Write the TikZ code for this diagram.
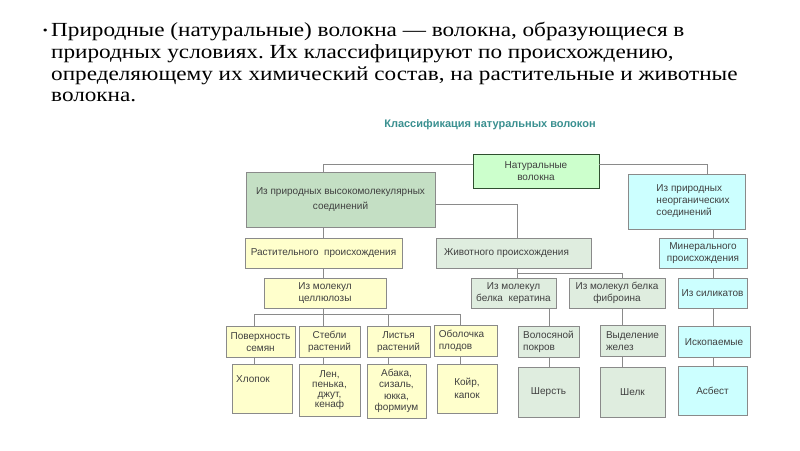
\documentclass[tikz,border=0pt]{standalone}
\usepackage{fontspec}
\setmainfont{Liberation Serif}
\newfontfamily\boxfont{Liberation Sans}
\frenchspacing
\definecolor{natfill}{HTML}{CCFFCC}
\definecolor{natline}{HTML}{2F4F2F}
\definecolor{highfill}{HTML}{C4DFC4}
\definecolor{cyanfill}{HTML}{CCFFFF}
\definecolor{yelfill}{HTML}{FFFFCC}
\definecolor{animfill}{HTML}{DFEDDF}
\definecolor{boxline}{HTML}{8A8A8A}
\definecolor{boxtext}{HTML}{404040}
\definecolor{titlecol}{HTML}{3A9090}
\begin{document}
\begin{tikzpicture}[x=1pt,y=-1pt,
  box/.style={draw=boxline, line width=0.8pt, text=boxtext,
    font=\boxfont\fontsize{10}{12.5}\selectfont, align=center,
    inner sep=1pt, outer sep=0pt},
  conn/.style={draw=boxline, line width=0.8pt}]
\useasboundingbox[fill=white] (0,0) rectangle (800,450);

% header text
\node[anchor=north west, inner sep=0pt,
  font=\fontsize{20}{21.7}\selectfont] (head) at (51,21.5)
  {\scalebox{1.16}[1]{\begin{tabular}{@{}l@{}}%
   \llap{\raisebox{2pt}{\scalebox{0.6}{\textbullet}}\hspace{3pt}}Природные (натуральные) волокна — волокна, образующиеся в\\
   природных условиях. Их классифицируют по происхождению,\\
   определяющему их химический состав, на растительные и животные\\
   волокна.\end{tabular}}};

% title
\node[font=\boxfont\bfseries\fontsize{11}{13}\selectfont, text=titlecol, inner sep=0pt]
  (title) at (490,124.5) {Классификация натуральных волокон};

% level 1
\node[box, fill=natfill, draw=natline, minimum width=126pt, minimum height=34pt, font=\boxfont\fontsize{10}{11.5}\selectfont]
  (nat) at (536,171) {Натуральные\\волокна};
\node[box, fill=highfill, minimum width=189pt, minimum height=55pt, font=\boxfont\fontsize{10}{15.5}\selectfont]
  (high) at (340.5,199.5) {Из природных высокомолекулярных\\соединений};
\node[box, fill=cyanfill, minimum width=117pt, minimum height=55pt, align=left,
  font=\boxfont\fontsize{10}{12}\selectfont]
  (inorg) at (686.5,201.5) {\hspace*{13pt}Из природных\\\hspace*{13pt}неорганических\\\hspace*{13pt}соединений\hspace*{10pt}};

% level 2
\node[box, fill=yelfill, minimum width=157pt, minimum height=30pt] (rast) at (323.5,253) {Растительного\ \ происхождения};
\node[box, fill=animfill, minimum width=155pt, minimum height=30pt] (anim) at (513.5,253) {Животного происхождения\hspace*{14pt}};
\node[box, fill=cyanfill, minimum width=88pt, minimum height=30pt, font=\boxfont\fontsize{10}{12}\selectfont] (miner) at (703,253) {Минерального\\происхождения};

% level 3
\node[box, fill=yelfill, minimum width=122pt, minimum height=30pt, font=\boxfont\fontsize{10}{12}\selectfont] (cell) at (325,293) {Из молекул\\целлюлозы};
\node[box, fill=animfill, minimum width=85pt, minimum height=30pt, font=\boxfont\fontsize{10}{12}\selectfont] (kerat) at (513.5,293) {Из молекул\\белка\ \ кератина};
\node[box, fill=animfill, minimum width=96pt, minimum height=30pt, font=\boxfont\fontsize{10}{12}\selectfont] (fibr) at (617,293) {Из молекул белка\\фиброина};
\node[box, fill=cyanfill, minimum width=69pt, minimum height=30pt] (silic) at (712.5,293) {Из силикатов};

% level 4
\node[box, fill=yelfill, minimum width=69pt, minimum height=31pt, font=\boxfont\fontsize{10}{12.5}\selectfont] (surf) at (260.5,342) {Поверхность\\семян};
\node[box, fill=yelfill, minimum width=61pt, minimum height=31pt, font=\boxfont\fontsize{10}{12.5}\selectfont] (stem) at (329.5,342) {Стебли\\растений};
\node[box, fill=yelfill, minimum width=63pt, minimum height=31pt, font=\boxfont\fontsize{10}{12.5}\selectfont] (leaf) at (398.5,342) {Листья\\растений};
\node[box, fill=yelfill, minimum width=63pt, minimum height=31pt, align=left, font=\boxfont\fontsize{10}{12}\selectfont] (shell) at (465.5,341) {Оболочка\\плодов\hspace*{20pt}};
\node[box, fill=animfill, minimum width=61pt, minimum height=31pt, align=left, font=\boxfont\fontsize{10}{12.5}\selectfont] (hair) at (548.5,342) {Волосяной\\покров\hspace*{14pt}};
\node[box, fill=animfill, minimum width=65pt, minimum height=31pt, align=left, font=\boxfont\fontsize{10}{12}\selectfont] (gland) at (632.5,341) {Выделение\\желез\hspace*{22pt}};
\node[box, fill=cyanfill, minimum width=72pt, minimum height=31pt] (fossil) at (714,342) {Ископаемые};

% level 5
\node[box, fill=yelfill, minimum width=60pt, minimum height=49pt, align=left] (cotton) at (262,388.5) {Хлопок\hspace*{18pt}\\[6pt]\mbox{}};
\node[box, fill=yelfill, minimum width=61pt, minimum height=52pt, font=\boxfont\fontsize{10}{10}\selectfont] (flax) at (329.5,390) {Лен,\\пенька,\\джут,\\кенаф};
\node[box, fill=yelfill, minimum width=59pt, minimum height=54pt, font=\boxfont\fontsize{10}{11.5}\selectfont] (abaca) at (396.5,391) {Абака,\\сизаль,\\юкка,\\формиум};
\node[box, fill=yelfill, minimum width=60pt, minimum height=49pt, font=\boxfont\fontsize{10}{12.5}\selectfont] (coir) at (467,388.5) {Койр,\\капок};
\node[box, fill=animfill, minimum width=61pt, minimum height=50pt] (wool) at (548.5,392) {Шерсть};
\node[box, fill=animfill, minimum width=65pt, minimum height=50pt] (silk) at (632.5,392) {Шелк};
\node[box, fill=cyanfill, minimum width=69pt, minimum height=49pt] (asb) at (712.5,390.5) {Асбест};

% connectors
\draw[conn] (nat.west |- 0,164) -| (high.north -| 323,0);
\draw[conn] (nat.east |- 0,164) -| (inorg.north -| 707,0);
\draw[conn] (high.east |- 0,204) -| (anim.north -| 517,0);
\draw[conn] (323,0 |- high.south) -- (323,0 |- rast.north);
\draw[conn] (713,0 |- inorg.south) -- (713,0 |- miner.north);
\draw[conn] (323,0 |- rast.south) -- (323,0 |- cell.north);
\draw[conn] (517,0 |- anim.south) -- (517,0 |- kerat.north);
\draw[conn] (517,273) -| (622,0 |- fibr.north);
\draw[conn] (713,0 |- miner.south) -- (713,0 |- silic.north);
\draw[conn] (323,0 |- cell.south) -- (323,314);
\draw[conn] (254,0 |- surf.north) |- (460,314) -- (460,0 |- shell.north);
\draw[conn] (323,314) -- (323,0 |- stem.north);
\draw[conn] (388,314) -- (388,0 |- leaf.north);
\draw[conn] (549,0 |- kerat.south) -- (549,0 |- hair.north);
\draw[conn] (622,0 |- fibr.south) -- (622,0 |- gland.north);
\draw[conn] (713,0 |- silic.south) -- (713,0 |- fossil.north);
\draw[conn] (254,0 |- surf.south) -- (254,0 |- cotton.north);
\draw[conn] (323,0 |- stem.south) -- (323,0 |- flax.north);
\draw[conn] (388,0 |- leaf.south) -- (388,0 |- abaca.north);
\draw[conn] (460,0 |- shell.south) -- (460,0 |- coir.north);
\draw[conn] (549,0 |- hair.south) -- (549,0 |- wool.north);
\draw[conn] (622,0 |- gland.south) -- (622,0 |- silk.north);
\draw[conn] (713,0 |- fossil.south) -- (713,0 |- asb.north);
\end{tikzpicture}
\end{document}
